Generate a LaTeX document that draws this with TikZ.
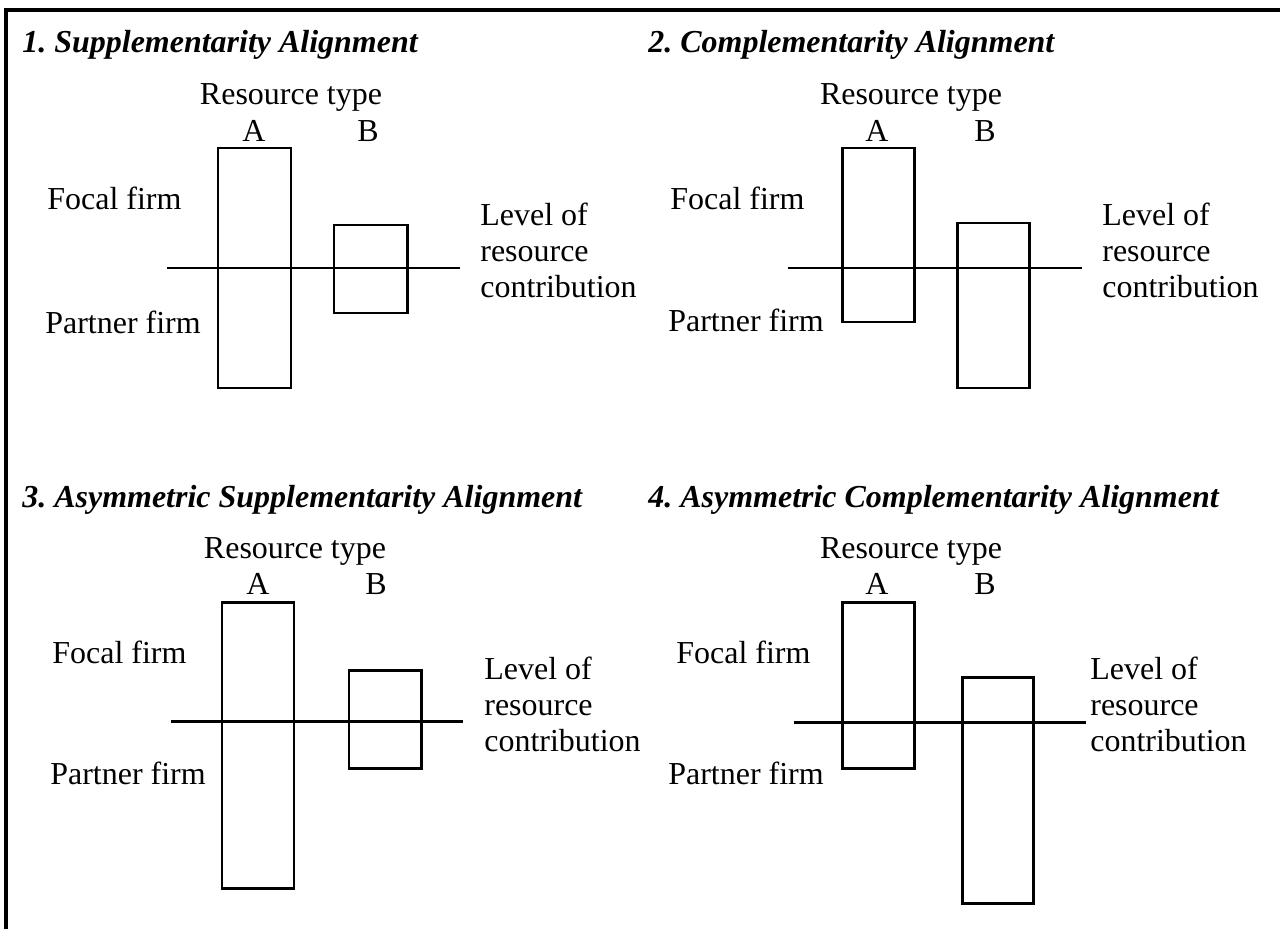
\documentclass[tikz,border=0pt]{standalone}
\usepackage{fontspec}
\setmainfont{Liberation Serif}
\usepackage{tikz}
\frenchspacing

\tikzset{
  resbox/.style={draw, line width=1.7pt},
  midline/.style={line width=1.7pt},
  txt/.style={font=\fontsize{18.2}{20.5}\selectfont, inner sep=0pt},
  heading/.style={font=\fontsize{18.2}{21}\selectfont\bfseries\itshape, anchor=base west, inner sep=0pt},
  levtext/.style={txt, anchor=west, align=left}
}

\begin{document}
\begin{tikzpicture}[x=0.02cm, y=-0.02cm]
    \useasboundingbox (0,0) rectangle (1280,929);
    % frame
    \draw[line width=2pt] (6,929) -- (6,10) -- (1280,10);

    % 1. Supplementarity
    \node[heading] (t1) at (22,53) {1. Supplementarity Alignment};
    \node[txt] (rt1) at (291,97) {Resource type};
    \node[txt] (a1) at (254,131) {A};
    \node[txt] (b1) at (368,131) {B};
    \node[txt, anchor=west] (ff1) at (47,198) {Focal firm};
    \node[txt, anchor=west] (pf1) at (45,322) {Partner firm};
    \node[levtext] (lv1) at (480,250) {Level of\\resource\\contribution};
    \draw[resbox] (218,148) rectangle (291,388);
    \draw[resbox] (334,225) rectangle (407,313);
    \coordinate (l1) at (167,268);
    \coordinate (r1) at (460,268);
    \draw[midline] (l1) -- (r1);

    % 2. Complementarity
    \node[heading] (t2) at (648,53) {2. Complementarity Alignment};
    \node[txt] (rt2) at (911,97) {Resource type};
    \node[txt] (a2) at (877,131) {A};
    \node[txt] (b2) at (985,131) {B};
    \node[txt, anchor=west] (ff2) at (670,198) {Focal firm};
    \node[txt, anchor=west] (pf2) at (668,320) {Partner firm};
    \node[levtext] (lv2) at (1102,250) {Level of\\resource\\contribution};
    \draw[resbox] (842,148) rectangle (914,322);
    \draw[resbox] (957,223) rectangle (1029,388);
    \coordinate (l2) at (788,268);
    \coordinate (r2) at (1082,268);
    \draw[midline] (l2) -- (r2);

    % 3. Asymmetric Supplementarity
    \node[heading] (t3) at (22,507) {3. Asymmetric Supplementarity Alignment};
    \node[txt] (rt3) at (295,551) {Resource type};
    \node[txt] (a3) at (258,584) {A};
    \node[txt] (b3) at (376,584) {B};
    \node[txt, anchor=west] (ff3) at (52,652) {Focal firm};
    \node[txt, anchor=west] (pf3) at (50,773) {Partner firm};
    \node[levtext] (lv3) at (484,704) {Level of\\resource\\contribution};
    \draw[resbox] (222,602) rectangle (294,888);
    \draw[resbox] (349,670) rectangle (421,768);
    \coordinate (l3) at (171,721);
    \coordinate (r3) at (463,721);
    \draw[midline] (l3) -- (r3);

    % 4. Asymmetric Complementarity
    \node[heading] (t4) at (648,507) {4. Asymmetric Complementarity Alignment};
    \node[txt] (rt4) at (911,551) {Resource type};
    \node[txt] (a4) at (877,584) {A};
    \node[txt] (b4) at (985,584) {B};
    \node[txt, anchor=west] (ff4) at (676,652) {Focal firm};
    \node[txt, anchor=west] (pf4) at (668,773) {Partner firm};
    \node[levtext] (lv4) at (1090,704) {Level of\\resource\\contribution};
    \draw[resbox] (842,602) rectangle (914,768);
    \draw[resbox] (962,677) rectangle (1033,903);
    \coordinate (l4) at (794,722);
    \coordinate (r4) at (1086,722);
    \draw[midline] (l4) -- (r4);
\end{tikzpicture}
\end{document}
